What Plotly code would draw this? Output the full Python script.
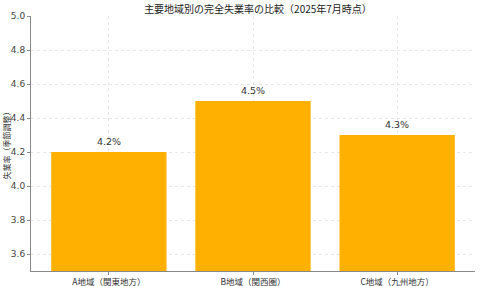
import plotly.graph_objects as go

categories = ["A地域（関東地方）", "B地域（関西圏）", "C地域（九州地方）"]
values = [4.2, 4.5, 4.3]
value_labels = ["4.2%", "4.5%", "4.3%"]
title_text = "主要地域別の完全失業率の比較（2025年7月時点）"
y_title = "失業率（季節調整）"
y_ticks = [3.6, 3.8, 4.0, 4.2, 4.4, 4.6, 4.8, 5.0]

FONT = "DejaVu Sans, Noto Sans CJK JP, sans-serif"
CJK = "Noto Sans CJK JP, DejaVu Sans, sans-serif"

fig = go.Figure()
fig.add_trace(go.Bar(
    x=categories, y=values, width=0.8,
    marker=dict(color="#FFB000", line=dict(width=0)),
    hoverinfo="skip",
))

for c, v, t in zip(categories, values, value_labels):
    fig.add_annotation(x=c, y=v, text=t, showarrow=False, yshift=11,
                       font=dict(family=FONT, size=9.5, color="#333333"))

# y-axis title as rotated annotation (placed left of tick labels)
fig.add_annotation(text=y_title, xref="paper", yref="paper", x=-25/444, y=0.5,
                   xanchor="center", yanchor="middle", textangle=-90, showarrow=False,
                   font=dict(family=CJK, size=8, color="#333333"))

fig.update_layout(
    width=480, height=286,
    margin=dict(l=31, r=5, t=16, b=15),
    paper_bgcolor="white", plot_bgcolor="white",
    showlegend=False,
    title=dict(text=title_text, x=258/480, xanchor="center", y=1-9/286, yanchor="middle",
               font=dict(family=CJK, size=10, color="#222222")),
    font=dict(family=FONT, size=9, color="#444444"),
)
fig.update_xaxes(
    range=[-0.54, 2.54], automargin=False,
    showline=True, linecolor="#888888", linewidth=1,
    ticks="outside", ticklen=3, tickcolor="#888888",
    showgrid=True, gridcolor="rgba(205,205,205,0.45)", griddash="dot", gridwidth=1,
    tickfont=dict(family=CJK, size=8.5, color="#333333"),
    layer="above traces", fixedrange=True,
)
fig.update_yaxes(
    range=[3.5, 5.0], tickvals=y_ticks, ticktext=[f"{t:.1f}" for t in y_ticks],
    automargin=False,
    showline=True, linecolor="#888888", linewidth=1,
    ticks="outside", ticklen=3, tickcolor="#888888",
    showgrid=True, gridcolor="rgba(205,205,205,0.5)", griddash="dot", gridwidth=1,
    zeroline=False,
    tickfont=dict(family=FONT, size=9, color="#444444"),
    layer="above traces", fixedrange=True,
)

fig.write_html("out.html", config={"displayModeBar": False})
